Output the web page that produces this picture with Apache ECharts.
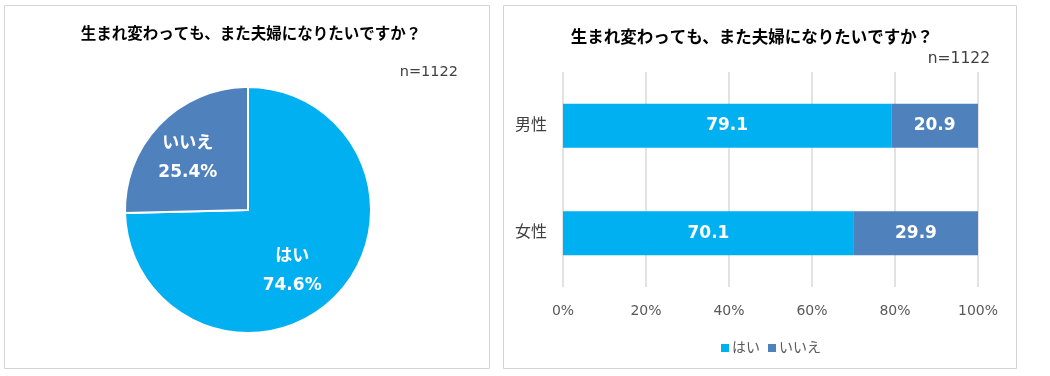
<!DOCTYPE html>
<html>
<head>
<meta charset="utf-8">
<script src="https://cdn.jsdelivr.net/npm/echarts@6/dist/echarts.min.js"></script>
<style>
  html, body { margin: 0; padding: 0; background: #fff; }
  #chart { width: 1050px; height: 376px; }
</style>
</head>
<body>
<div id="chart"></div>
<script>
var titleText = '生まれ変わっても、また夫婦になりたいですか？';
var sampleText = 'n=1122';

// pie (all respondents)
var pieNames = ['はい', 'いいえ'];
var pieValues = [74.6, 25.4];

// bar (by gender)
var genders = ['男性', '女性'];
var yesValues = [79.1, 70.1];
var noValues = [20.9, 29.9];

var colYes = '#00B0F0';
var colNo = '#4F81BD';
var fontFam = '"DejaVu Sans", "Noto Sans CJK JP", sans-serif';

var chart = echarts.init(document.getElementById('chart'));

var option = {
    animation: false,
    textStyle: { fontFamily: fontFam },
    graphic: [
        { type: 'rect', shape: { x: 4.5, y: 5.5, width: 485, height: 363 },
          style: { fill: 'none', stroke: '#D4D4D4', lineWidth: 1 } },
        { type: 'rect', shape: { x: 503.5, y: 5.5, width: 513, height: 363 },
          style: { fill: 'none', stroke: '#D4D4D4', lineWidth: 1 } },
        { type: 'text', right: 592, top: 65,
          style: { text: sampleText, font: '14.5px ' + fontFam, fill: '#404040' } },
        { type: 'text', right: 60, top: 51,
          style: { text: sampleText, font: '15.5px ' + fontFam, fill: '#404040' } }
    ],
    title: [
        { text: titleText, left: 246, top: 22, textAlign: 'center',
          textStyle: { fontSize: 15.5, fontWeight: 'bold', color: '#000', fontFamily: fontFam } },
        { text: titleText, left: 747, top: 25, textAlign: 'center',
          textStyle: { fontSize: 16.5, fontWeight: 'bold', color: '#000', fontFamily: fontFam } }
    ],
    legend: {
        data: pieNames,
        left: 716, top: 336,
        icon: 'rect', itemWidth: 8, itemHeight: 8, itemGap: 8,
        textStyle: { fontSize: 14, color: '#595959', fontFamily: fontFam, padding: [0, 0, 0, -2] }
    },
    grid: { left: 563, right: 72, top: 72, bottom: 89 },
    xAxis: {
        type: 'value', min: 0, max: 100, interval: 20,
        axisLine: { show: false }, axisTick: { show: false },
        axisLabel: { formatter: '{value}%', fontSize: 14, color: '#595959', margin: 17 },
        splitLine: { lineStyle: { color: '#D9D9D9', width: 1.5 } }
    },
    yAxis: {
        type: 'category', data: genders, inverse: true,
        axisLine: { show: false }, axisTick: { show: false },
        axisLabel: { fontSize: 16, color: '#404040', margin: 16 }
    },
    series: [
        {
            type: 'pie', center: [248, 210], radius: 123,
            startAngle: 90, clockwise: true,
            itemStyle: { borderColor: '#fff', borderWidth: 2 },
            label: {
                position: 'inside', color: '#fff', fontSize: 17, fontWeight: 'bold',
                lineHeight: 29,
                formatter: function (p) { return p.name + '\n' + p.value.toFixed(1) + '%'; }
            },
            labelLayout: function (p) {
                return p.dataIndex === 1 ? { dx: -14, dy: -7 } : { dx: -2, dy: 16 };
            },
            data: pieNames.map(function (n, i) {
                return { name: n, value: pieValues[i], itemStyle: { color: i === 0 ? colYes : colNo } };
            })
        },
        {
            name: 'はい', type: 'bar', stack: 'g', barWidth: 44,
            itemStyle: { color: colYes },
            label: { show: true, color: '#fff', fontSize: 17, fontWeight: 'bold',
                     formatter: function (p) { return p.value.toFixed(1); } },
            data: yesValues
        },
        {
            name: 'いいえ', type: 'bar', stack: 'g', barWidth: 44,
            itemStyle: { color: colNo },
            label: { show: true, color: '#fff', fontSize: 17, fontWeight: 'bold',
                     formatter: function (p) { return p.value.toFixed(1); } },
            data: noValues
        }
    ]
};

chart.setOption(option);
</script>
</body>
</html>
